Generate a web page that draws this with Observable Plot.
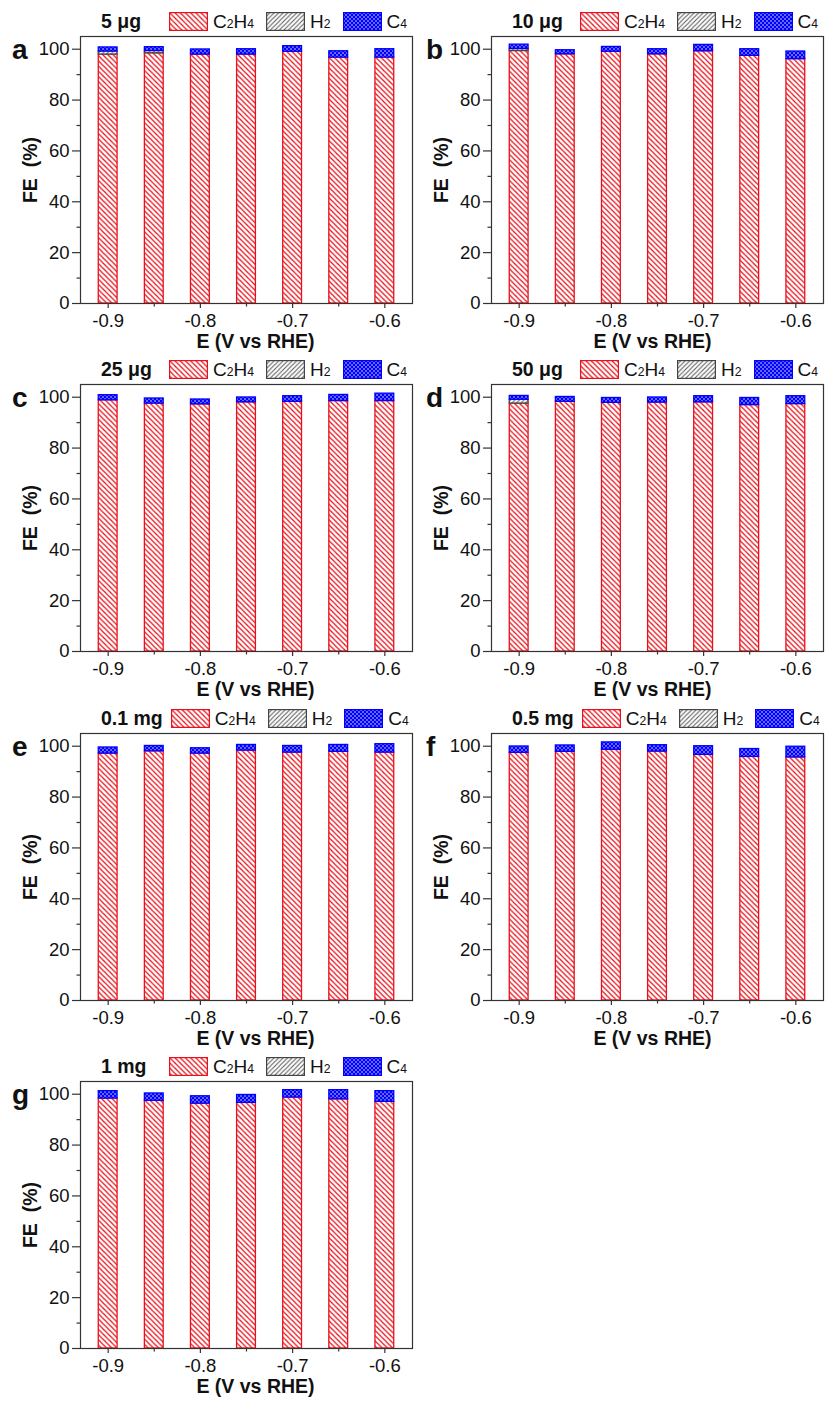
<!DOCTYPE html>
<html><head><meta charset="utf-8">
<script src="https://cdn.jsdelivr.net/npm/d3@7"></script>
<script src="https://cdn.jsdelivr.net/npm/@observablehq/plot@0.6"></script>
<style>
body{margin:0;background:#fff;font-family:"Liberation Sans",Arial,sans-serif;color:#111;}
#root{position:relative;width:827px;height:1401px;overflow:hidden;}
.panel{position:absolute;width:414px;height:350px;}
.letter{position:absolute;font-weight:bold;font-size:28px;line-height:28px;top:36px;}
.header{position:absolute;top:12px;left:101px;display:flex;align-items:center;height:19px;white-space:nowrap;}
.title{font-weight:bold;font-size:19.5px;min-width:60px;margin-right:8px;}
.item{display:flex;align-items:center;margin-right:12px;font-size:19px;}
.item svg{margin-right:5px;display:block;}
.sub{font-size:0.64em;}
</style>
</head><body>
<svg width="0" height="0" style="position:absolute">
<defs>
<pattern id="hRed" patternUnits="userSpaceOnUse" width="5.2" height="5.2">
<rect width="5.2" height="5.2" fill="#fff"/>
<path d="M-1,-1L6.2,6.2M-1,4.2L1,6.2M4.2,-1L6.2,1" stroke="#e8101a" stroke-width="1.25"/>
</pattern>
<pattern id="hGray" patternUnits="userSpaceOnUse" width="4.5" height="4.5">
<rect width="4.5" height="4.5" fill="#fff"/>
<path d="M0,4.5L4.5,0M-1,1L1,-1M3.5,5.5L5.5,3.5" stroke="#555" stroke-width="1"/>
</pattern>
<pattern id="dBlue" patternUnits="userSpaceOnUse" width="4" height="4">
<rect width="4" height="4" fill="#0000ff"/>
<circle cx="1" cy="1" r="0.75" fill="#fff"/>
<circle cx="3" cy="3" r="0.75" fill="#fff"/>
</pattern>
</defs>
</svg>
<div id="root"></div>
<script>
// ---- data ----
const potentials = [-0.9, -0.85, -0.8, -0.75, -0.7, -0.65, -0.6];
const loadings = ["5 μg", "10 μg", "25 μg", "50 μg", "0.1 mg", "0.5 mg", "1 mg"];
const panelLetters = ["a", "b", "c", "d", "e", "f", "g"];
const seriesNames = ["C2H4", "H2", "C4"];
const feC2H4 = [
  [97.9, 98.4, 97.9, 97.9, 99.0, 96.7, 96.7],
  [99.3, 98.0, 99.0, 98.0, 99.2, 97.4, 96.1],
  [98.8, 97.5, 97.2, 98.0, 98.2, 98.5, 98.5],
  [97.5, 98.2, 97.8, 97.9, 98.0, 96.9, 97.3],
  [97.1, 98.0, 97.1, 98.3, 97.5, 97.8, 97.5],
  [97.4, 97.8, 98.6, 97.9, 96.6, 95.8, 95.6],
  [98.3, 97.4, 96.3, 96.6, 98.7, 98.0, 97.0]
];
const feH2 = [
  [1.2, 0.9, 0, 0, 0, 0, 0],
  [0.8, 0, 0, 0, 0, 0, 0],
  [0, 0, 0, 0, 0, 0, 0],
  [1.5, 0, 0, 0, 0, 0, 0],
  [0, 0, 0, 0, 0, 0, 0],
  [0, 0, 0, 0, 0, 0, 0],
  [0, 0, 0, 0, 0, 0, 0]
];
const feC4 = [
  [1.6, 1.5, 2.0, 2.1, 2.2, 2.5, 3.3],
  [1.7, 1.6, 1.9, 2.0, 2.5, 2.6, 3.0],
  [2.0, 2.0, 1.9, 1.9, 2.2, 2.4, 2.9],
  [1.5, 1.9, 1.9, 2.0, 2.4, 2.8, 3.1],
  [2.4, 2.1, 2.1, 2.2, 2.6, 2.7, 3.3],
  [2.5, 2.5, 2.9, 2.5, 3.4, 3.1, 4.2],
  [2.9, 2.9, 2.9, 3.1, 2.9, 3.6, 4.2]
];
const xTicks = [-0.9, -0.8, -0.7, -0.6];
const xMinorTicks = [-0.85, -0.75, -0.65];
const yTicks = [0, 20, 40, 60, 80, 100];
const yMinorTicks = [10, 30, 50, 70, 90];
const yLabel = "FE\u00a0\u00a0(%)";
const xLabel = "E (V vs RHE)";

// ---- styles ----
const seriesStyle = {
  C2H4: {fill: "url(#hRed)", stroke: "#e8101a"},
  H2: {fill: "url(#hGray)", stroke: "#444"},
  C4: {fill: "url(#dBlue)", stroke: "#0000ff"}
};
const seriesHTML = {C2H4: 'C<span class="sub">2</span>H<span class="sub">4</span>', H2: 'H<span class="sub">2</span>', C4: 'C<span class="sub">4</span>'};

function stackRows(p) {
  const out = [];
  potentials.forEach((E, i) => {
    let base = 0;
    const vals = {C2H4: feC2H4[p][i], H2: feH2[p][i], C4: feC4[p][i]};
    seriesNames.forEach(s => {
      const v = vals[s];
      if (v > 0) out.push({E, series: s, y1: base, y2: base + v});
      base += v;
    });
  });
  return out;
}

const root = document.getElementById("root");
const colX = [0, 411], rowY = [0, 348, 697, 1045];
const xLabelShift = [9, -5];
const hw = 0.0102;
const FONT = '"Liberation Sans", Arial, sans-serif';

panelLetters.forEach((L, p) => {
  const col = p % 2, row = Math.floor(p / 2);
  const panel = document.createElement("div");
  panel.className = "panel";
  panel.style.left = colX[col] + "px";
  panel.style.top = rowY[row] + "px";

  const letter = document.createElement("div");
  letter.className = "letter";
  letter.style.left = (col ? 15 : 12) + "px";
  letter.textContent = L;
  panel.appendChild(letter);

  const header = document.createElement("div");
  header.className = "header";
  let h = `<div class="title">${loadings[p]}</div>`;
  seriesNames.forEach(s => {
    h += `<div class="item"><svg width="39" height="19"><rect x="0.6" y="0.6" width="37.8" height="17.8" fill="${seriesStyle[s].fill}" stroke="${seriesStyle[s].stroke}" stroke-width="1.2"/></svg><span>${seriesHTML[s]}</span></div>`;
  });
  header.innerHTML = h;
  panel.appendChild(header);

  const rows = stackRows(p);
  const bar = s => Plot.rectY(rows.filter(d => d.series === s), {
    x1: d => d.E - hw, x2: d => d.E + hw, y1: "y1", y2: "y2",
    fill: seriesStyle[s].fill, stroke: seriesStyle[s].stroke, strokeWidth: 1.3
  });
  const chart = Plot.plot({
    width: 414, height: 325,
    marginLeft: 80, marginRight: 2, marginTop: 6, marginBottom: 52,
    x: {domain: [-0.93, -0.57], label: null},
    y: {domain: [0, 105], label: null},
    style: {fontFamily: FONT, fontSize: "18.5px", color: "#111", background: "transparent", overflow: "visible"},
    marks: [
      ...seriesNames.map(bar),
      Plot.frame({stroke: "#333", strokeWidth: 1.2}),
      Plot.axisY(yTicks, {tickSize: 8, tickPadding: 3, fontSize: 18.5, stroke: "#333", strokeWidth: 1.2, label: null}),
      Plot.axisY(yMinorTicks, {tickSize: 3.5, tickFormat: () => "", stroke: "#333", strokeWidth: 1.2, label: null}),
      Plot.axisX(xTicks, {tickSize: 5, tickPadding: 5, fontSize: 18.5, tickFormat: d => d.toFixed(1), stroke: "#333", strokeWidth: 1.2, label: null}),
      Plot.axisX(xMinorTicks, {tickSize: 3.5, tickFormat: () => "", stroke: "#333", strokeWidth: 1.2, label: null}),
      Plot.text([yLabel], {text: d => d, frameAnchor: "left", textAnchor: "middle", lineAnchor: "middle", dx: -50, rotate: -90, fontWeight: "bold", fontSize: 19.5, fill: "#111"}),
      Plot.text([xLabel], {text: d => d, frameAnchor: "bottom", textAnchor: "middle", lineAnchor: "middle", dx: xLabelShift[col], dy: 38.5, fontWeight: "bold", fontSize: 19.5, fill: "#111"})
    ]
  });
  chart.style.position = "absolute";
  chart.style.left = "0px";
  chart.style.top = "30px";
  panel.appendChild(chart);
  root.appendChild(panel);
});
</script>
</body></html>
